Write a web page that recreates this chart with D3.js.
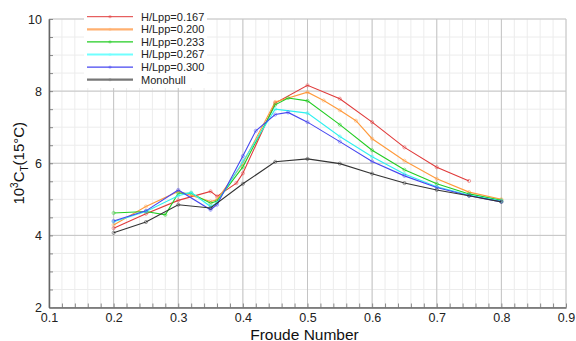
<!DOCTYPE html>
<html>
<head>
<meta charset="utf-8">
<script src="https://cdn.jsdelivr.net/npm/d3@7"></script>
<style>
  body { margin: 0; background: #fff; }
  svg { font-family: "Liberation Sans", Arial, sans-serif; }
</style>
</head>
<body>
<div id="chart"></div>
<script>
// series labels and colours
const seriesNames = ["H/Lpp=0.167", "H/Lpp=0.200", "H/Lpp=0.233", "H/Lpp=0.267", "H/Lpp=0.300", "Monohull"];
const seriesColors = ["#e03a3a", "#ff9a3c", "#22cc22", "#2ef0f0", "#4646f0", "#333333"];

// Froude numbers and 10^3 C_T values
const fn167 = [0.2, 0.25, 0.3, 0.35, 0.36, 0.39, 0.4, 0.45, 0.5, 0.55, 0.6, 0.65, 0.7, 0.75];
const ct167 = [4.2, 4.6, 4.97, 5.22, 5.08, 5.45, 5.72, 7.67, 8.16, 7.79, 7.14, 6.44, 5.89, 5.51];

const fn200 = [0.2, 0.25, 0.3, 0.35, 0.36, 0.4, 0.45, 0.5, 0.525, 0.55, 0.575, 0.6, 0.65, 0.7, 0.75, 0.8];
const ct200 = [4.29, 4.8, 5.22, 4.94, 4.99, 6.0, 7.7, 7.97, 7.74, 7.47, 7.18, 6.68, 6.07, 5.57, 5.2, 5.0];

const fn233 = [0.2, 0.25, 0.28, 0.3, 0.32, 0.35, 0.36, 0.4, 0.45, 0.47, 0.5, 0.55, 0.6, 0.65, 0.7, 0.75, 0.8];
const ct233 = [4.62, 4.66, 4.57, 5.17, 5.17, 4.89, 4.95, 5.9, 7.62, 7.81, 7.73, 7.07, 6.36, 5.82, 5.43, 5.15, 4.97];

const fn267 = [0.2, 0.25, 0.3, 0.32, 0.35, 0.36, 0.4, 0.45, 0.5, 0.55, 0.6, 0.65, 0.7, 0.75, 0.8];
const ct267 = [4.38, 4.66, 5.1, 5.19, 4.8, 4.9, 6.05, 7.5, 7.39, 6.74, 6.18, 5.7, 5.35, 5.12, 4.95];

const fn300 = [0.2, 0.25, 0.3, 0.35, 0.36, 0.4, 0.42, 0.45, 0.47, 0.5, 0.55, 0.6, 0.65, 0.7, 0.75, 0.8];
const ct300 = [4.4, 4.68, 5.26, 4.71, 4.85, 6.2, 6.9, 7.35, 7.41, 7.14, 6.6, 6.05, 5.65, 5.33, 5.1, 4.93];

const fnMono = [0.2, 0.25, 0.3, 0.35, 0.4, 0.45, 0.5, 0.55, 0.6, 0.65, 0.7, 0.75, 0.8];
const ctMono = [4.07, 4.37, 4.85, 4.76, 5.43, 6.04, 6.12, 5.99, 5.71, 5.45, 5.26, 5.1, 4.93];

const xTicks = [0.1, 0.2, 0.3, 0.4, 0.5, 0.6, 0.7, 0.8, 0.9];
const yTicks = [2, 4, 6, 8, 10];

const seriesFn = [fn167, fn200, fn233, fn267, fn300, fnMono];
const seriesCt = [ct167, ct200, ct233, ct267, ct300, ctMono];
const series = seriesNames.map((name, i) => ({
  name,
  color: seriesColors[i],
  values: seriesFn[i].map((f, j) => ({ fn: f, ct: seriesCt[i][j] }))
}));

const width = 576;
const height = 341;
const marginTop = 19;
const marginRight = 10;
const marginBottom = 33.5;
const marginLeft = 49;

const x = d3.scaleLinear([0.1, 0.9], [marginLeft, width - marginRight]);
const y = d3.scaleLinear([2, 10], [height - marginBottom, marginTop]);

const svg = d3.select("#chart").append("svg")
  .attr("width", width)
  .attr("height", height)
  .attr("viewBox", [0, 0, width, height]);

// minor grid
svg.append("g")
  .attr("stroke", "#ececec")
  .attr("stroke-width", 1)
  .call(g => g.selectAll("line.vx")
    .data(d3.range(0.1, 0.9001, 0.02))
    .join("line")
    .attr("x1", d => x(d)).attr("x2", d => x(d))
    .attr("y1", y(2)).attr("y2", y(10)))
  .call(g => g.selectAll("line.hy")
    .data(d3.range(2, 10.001, 0.5))
    .join("line")
    .attr("x1", x(0.1)).attr("x2", x(0.9))
    .attr("y1", d => y(d)).attr("y2", d => y(d)));

// major grid
svg.append("g")
  .attr("stroke", "#c4c4c4")
  .attr("stroke-width", 1)
  .call(g => g.selectAll("line.mx")
    .data(xTicks)
    .join("line")
    .attr("x1", d => x(d)).attr("x2", d => x(d))
    .attr("y1", y(2)).attr("y2", y(10)))
  .call(g => g.selectAll("line.my")
    .data(yTicks)
    .join("line")
    .attr("x1", x(0.1)).attr("x2", x(0.9))
    .attr("y1", d => y(d)).attr("y2", d => y(d)));

// axes with inward ticks
svg.append("g")
  .attr("transform", `translate(0,${y(2)})`)
  .call(d3.axisBottom(x).tickValues(d3.range(0.1, 0.9001, 0.02)).tickSize(-4).tickFormat(""))
  .call(g => g.selectAll(".tick line").attr("stroke", "#888"))
  .call(g => g.select(".domain").remove());
svg.append("g")
  .attr("transform", `translate(0,${y(2)})`)
  .call(d3.axisBottom(x).tickValues(xTicks).tickSize(0).tickPadding(6).tickFormat(d3.format(".1f")))
  .call(g => g.selectAll(".tick text").attr("font-size", 12.5).attr("fill", "#222").attr("font-family", "Liberation Sans, Arial, sans-serif"))
  .call(g => g.select(".domain").attr("stroke", "#666").attr("stroke-width", 1.5));

svg.append("g")
  .attr("transform", `translate(${x(0.1)},0)`)
  .call(d3.axisLeft(y).tickValues(d3.range(2, 10.001, 0.5)).tickSize(-4).tickFormat(""))
  .call(g => g.selectAll(".tick line").attr("stroke", "#888"))
  .call(g => g.select(".domain").remove());
svg.append("g")
  .attr("transform", `translate(${x(0.1)},0)`)
  .call(d3.axisLeft(y).tickValues(yTicks).tickSize(0).tickPadding(7))
  .call(g => g.selectAll(".tick text").attr("font-size", 12.5).attr("fill", "#222").attr("font-family", "Liberation Sans, Arial, sans-serif"))
  .call(g => g.select(".domain").attr("stroke", "#666").attr("stroke-width", 1.5));

// lines
const line = d3.line().x(d => x(d.fn)).y(d => y(d.ct));
const plot = svg.append("g");
series.forEach(s => {
  plot.append("path")
    .datum(s.values)
    .attr("fill", "none")
    .attr("stroke", s.color)
    .attr("stroke-width", 1.1)
    .attr("d", line);
  plot.append("g")
    .selectAll("circle")
    .data(s.values)
    .join("circle")
    .attr("cx", d => x(d.fn))
    .attr("cy", d => y(d.ct))
    .attr("r", 1.6)
    .attr("fill", "none")
    .attr("stroke", s.color)
    .attr("stroke-opacity", 0.45)
    .attr("stroke-width", 1);
});

// legend
const legend = svg.append("g").attr("transform", "translate(84,8)");
legend.append("rect")
  .attr("width", 123).attr("height", 80)
  .attr("fill", "#fff");
const legendWidths = [1, 2.2, 1.2, 2.2, 1.2, 2.2];
const legendColors = ["#e03a3a", "#ffb070", "#22cc22", "#70ffff", "#4646f0", "#777777"];
series.forEach((s, i) => {
  const row = legend.append("g").attr("transform", `translate(0,${8.7 + i * 12.6})`);
  row.append("line")
    .attr("x1", 3).attr("x2", 49)
    .attr("stroke", legendColors[i])
    .attr("stroke-width", legendWidths[i]);
  row.append("circle")
    .attr("cx", 26).attr("r", 1.6)
    .attr("fill", legendColors[i])
    .attr("fill-opacity", 0.4);
  row.append("text")
    .attr("x", 57)
    .attr("dy", "0.36em")
    .attr("font-size", 11)
    .attr("fill", "#222")
    .text(s.name);
});

// axis titles
svg.append("text")
  .attr("x", (x(0.1) + x(0.9)) / 2 - 3)
  .attr("y", 339.5)
  .attr("text-anchor", "middle")
  .attr("font-size", 15.5)
  .attr("fill", "#111")
  .text("Froude Number");

const yTitle = svg.append("text")
  .attr("transform", `translate(24,${y(6)}) rotate(-90)`)
  .attr("text-anchor", "middle")
  .attr("font-size", 15)
  .attr("fill", "#111");
yTitle.append("tspan").text("10");
yTitle.append("tspan").attr("dy", -6).attr("font-size", 10).text("3");
yTitle.append("tspan").attr("dy", 6).text("C");
yTitle.append("tspan").attr("dy", 4).attr("font-size", 10).text("T");
yTitle.append("tspan").attr("dy", -4).text("(15\u00B0C)");
</script>
</body>
</html>
